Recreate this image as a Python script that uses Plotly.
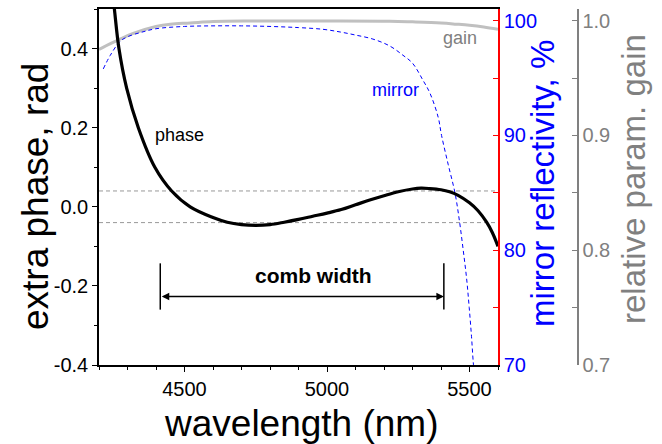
import plotly.graph_objects as go

# ---------------- data ----------------
phase_wl = [4245, 4254, 4270, 4297, 4338, 4396, 4455, 4520, 4600, 4650, 4700, 4750, 4800, 4850,
            4900, 4950, 5000, 5050, 5100, 5150, 5200, 5250, 5300, 5330, 5360, 5400, 5430, 5460,
            5500, 5530, 5560, 5580, 5600]
phase_val = [0.56, 0.50, 0.40, 0.30, 0.20, 0.10, 0.040, 0.000, -0.027, -0.039, -0.045, -0.047,
             -0.045, -0.039, -0.032, -0.024, -0.016, -0.007, 0.005, 0.017, 0.028, 0.038, 0.045,
             0.047, 0.046, 0.043, 0.038, 0.029, 0.010, -0.010, -0.039, -0.065, -0.100]

mirror_wl = [4215, 4240, 4274, 4300, 4350, 4400, 4500, 4600, 4700, 4800, 4900, 4986, 5050, 5100,
             5161, 5220, 5266, 5300, 5337, 5361, 5390, 5402, 5425, 5449, 5465, 5478, 5490, 5499,
             5507, 5513, 5516]
mirror_val = [95.8, 97.0, 98.2, 98.6, 99.0, 99.3, 99.5, 99.55, 99.55, 99.5, 99.4, 99.25, 99.0,
              98.75, 98.4, 97.8, 97.0, 96.3, 94.8, 93.7, 91.6, 90.0, 87.5, 85.0, 82.5, 80.0, 77.5,
              75.0, 72.5, 70.3, 69.5]

gain_wl = [4200, 4240, 4274, 4320, 4400, 4450, 4520, 4600, 4750, 5000, 5220, 5300, 5400, 5453,
           5500, 5550, 5600]
gain_val = [0.975, 0.980, 0.984, 0.989, 0.995, 0.997, 0.998, 0.9993, 0.9997, 0.9998, 0.9996,
            0.9990, 0.9980, 0.9970, 0.9960, 0.9945, 0.9925]

band_levels = [0.04, -0.04]
comb_start, comb_end = 4415, 5410
comb_arrow_y = -0.227
comb_bar = [-0.143, -0.260]

x_range = [4200, 5600]
x_ticks = [4500, 5000, 5500]
phase_range = [-0.4, 0.5]
phase_ticks = [-0.4, -0.2, 0.0, 0.2, 0.4]
phase_ticktext = ["-0.4", "-0.2", "0.0", "0.2", "0.4"]
refl_range = [70, 101.02]
refl_ticks = [70, 80, 90, 100]
gain_range = [0.7, 1.0102]
gain_ticks = [0.7, 0.8, 0.9, 1.0]
gain_ticktext = ["0.7", "0.8", "0.9", "1.0"]

W, H = 662, 444
FONT = "Liberation Sans, Arial, sans-serif"
BLUE = "#0000ff"
GRAY = "#808080"

fig = go.Figure()
# base axis y = gain, y2 = mirror, y3 = phase (drawn last, on top)
fig.add_trace(go.Scatter(x=gain_wl, y=gain_val, yaxis="y", mode="lines",
                         line=dict(color="#c0c0c0", width=3, shape="spline"), showlegend=False))
fig.add_trace(go.Scatter(x=mirror_wl, y=mirror_val, yaxis="y2", mode="lines",
                         line=dict(color=BLUE, width=1, dash="4px,3px", shape="spline"), showlegend=False))
fig.add_trace(go.Scatter(x=phase_wl, y=phase_val, yaxis="y3", mode="lines",
                         line=dict(color="black", width=3.2, shape="spline"), showlegend=False))

xd = [99 / W, 498 / W]
yd = [79 / H, 435 / H]

shapes = []
for lv in band_levels:
    shapes.append(dict(type="line", xref="x domain", yref="y3", x0=0, x1=1, y0=lv, y1=lv,
                       line=dict(color="#999999", width=1, dash="4px,3px"), layer="below"))
for cx in (comb_start, comb_end):
    shapes.append(dict(type="line", xref="x", yref="y3", x0=cx, x1=cx, y0=comb_bar[0], y1=comb_bar[1],
                       line=dict(color="black", width=1.5)))

C = dict(xanchor="center", yanchor="middle", showarrow=False)
ann = [
    dict(x=comb_end, y=comb_arrow_y, ax=comb_start, ay=comb_arrow_y, xref="x", yref="y3",
         axref="x", ayref="y3", text="", showarrow=True, arrowhead=2, arrowside="end+start",
         arrowsize=1, arrowwidth=1.5, arrowcolor="black", standoff=0, startstandoff=0),
    dict(x=4953, y=-0.173, xref="x", yref="y3", text="<b>comb width</b>",
         font=dict(family=FONT, size=21, color="black"), **C),
    dict(x=4484, y=0.182, xref="x", yref="y3", text="phase",
         font=dict(family=FONT, size=18, color="black"), **C),
    dict(x=5242, y=93.95, xref="x", yref="y2", text="mirror",
         font=dict(family=FONT, size=18, color=BLUE), **C),
    dict(x=5468, y=0.9846, xref="x", yref="y", text="gain",
         font=dict(family=FONT, size=18, color=GRAY), **C),
    # axis titles
    dict(x=301 / W, y=1 - 423 / H, xref="paper", yref="paper", text="wavelength (nm)",
         font=dict(family=FONT, size=37, color="black"), **C),
    dict(x=35 / W, y=1 - 197 / H, xref="paper", yref="paper", text="extra phase, rad",
         textangle=-90, font=dict(family=FONT, size=37, color="black"), **C),
    dict(x=542 / W, y=1 - 184 / H, xref="paper", yref="paper", text="mirror reflectivity, %",
         textangle=-90, font=dict(family=FONT, size=33, color=BLUE), **C),
    dict(x=633 / W, y=1 - 179 / H, xref="paper", yref="paper", text="relative param. gain",
         textangle=-90, font=dict(family=FONT, size=33, color=GRAY), **C),
]

tickfont = dict(family=FONT, size=20, color="black")

fig.update_layout(
    width=W, height=H, autosize=False, margin=dict(l=0, r=0, t=0, b=0, pad=0),
    paper_bgcolor="white", plot_bgcolor="white",
    shapes=shapes, annotations=ann,
    xaxis=dict(domain=xd, range=x_range, tickvals=x_ticks, ticks="outside", ticklen=5,
               tickwidth=1.3, tickcolor="black", linecolor="black", linewidth=1.5, mirror=True,
               showgrid=False, zeroline=False, tickfont=tickfont, automargin=False,
               minor=dict(dtick=100, tick0=4200, ticks="outside", ticklen=3, tickcolor="black")),
    yaxis=dict(domain=yd, range=gain_range, side="right", anchor="free", position=577.7 / W,
               tickvals=gain_ticks, ticktext=gain_ticktext, ticks="inside", ticklen=5,
               tickcolor=GRAY, linecolor=GRAY, linewidth=1.5, showline=True, showgrid=False,
               zeroline=False, tickfont=dict(family=FONT, size=20, color=GRAY), automargin=False,
               minor=dict(dtick=0.05, tick0=0.7, ticks="inside", ticklen=5, tickcolor=GRAY)),
    yaxis2=dict(domain=yd, range=refl_range, overlaying="y", side="right", anchor="x",
                tickvals=refl_ticks, ticks="inside", ticklen=5, tickcolor="red",
                linecolor="red", linewidth=1.5, showline=True, showgrid=False, zeroline=False,
                tickfont=dict(family=FONT, size=20, color=BLUE), automargin=False,
                minor=dict(dtick=5, tick0=70, ticks="inside", ticklen=5, tickcolor="red")),
    yaxis3=dict(domain=yd, range=phase_range, overlaying="y", side="left", anchor="x",
                tickvals=phase_ticks, ticktext=phase_ticktext, ticks="outside", ticklen=5,
                tickcolor="black", linecolor="black", linewidth=1.5, showline=True,
                showgrid=False, zeroline=False, tickfont=tickfont, automargin=False,
                minor=dict(dtick=0.1, tick0=-0.4, ticks="outside", ticklen=3, tickcolor="black")),
)

fig.write_html("out.html", config={"displayModeBar": False, "responsive": False},
               post_script="document.body.style.margin='0';document.body.style.overflow='hidden';")
